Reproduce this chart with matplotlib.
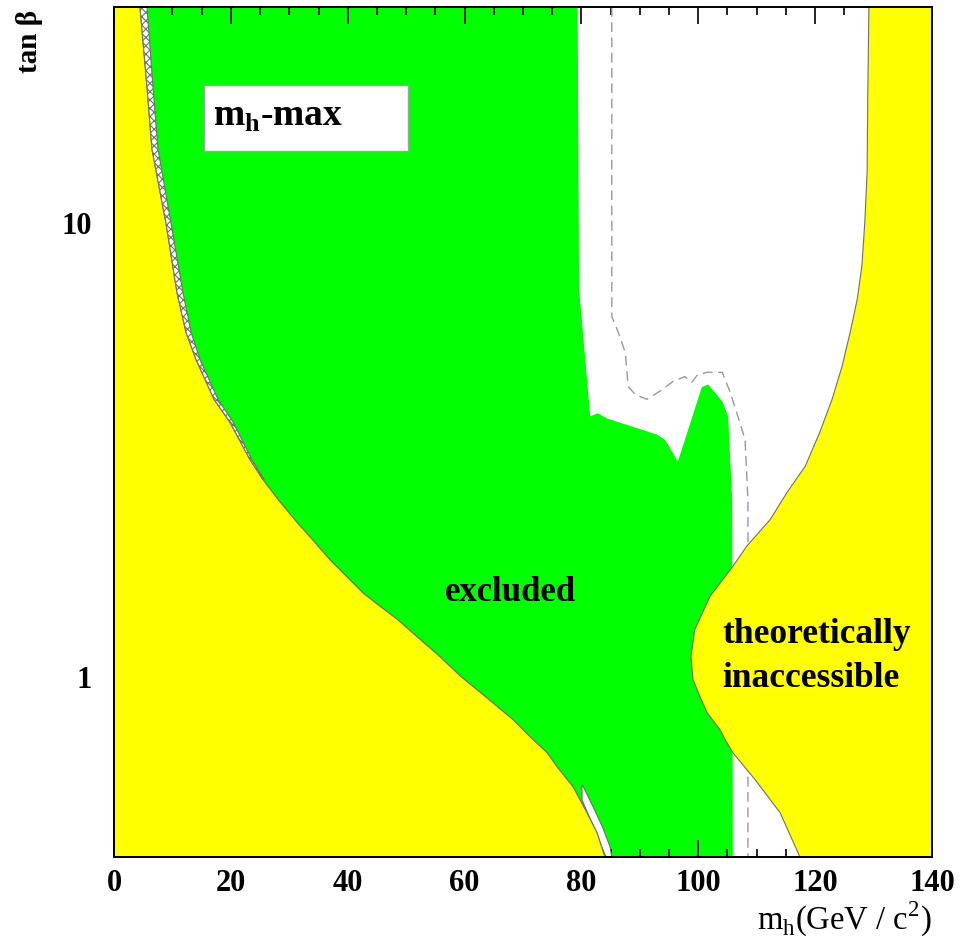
import matplotlib

matplotlib.use("Agg")

import matplotlib.pyplot as plt
import numpy as np
from matplotlib.patches import Rectangle
from matplotlib.ticker import LogLocator, MultipleLocator, NullFormatter

plt.rcParams["font.family"] = ["Liberation Serif", "DejaVu Serif"]
plt.rcParams["mathtext.fontset"] = "custom"
plt.rcParams["mathtext.rm"] = "Liberation Serif"
plt.rcParams["mathtext.bf"] = "Liberation Serif:bold"
plt.rcParams["hatch.linewidth"] = 0.8

YELLOW = "#ffff00"
GREEN = "#00ff00"
EDGE = "#707070"

# theoretically inaccessible region at low m_h (yellow, left)
left_y = [30, 20, 14.57, 10, 7.04, 5.75, 5.01, 4.53, 4.09, 3.64, 3.01, 2.72, 2.46, 2.19, 2.00,
          1.81, 1.66, 1.53, 1.43, 1.34, 1.22, 1.107, 1.0, 0.936, 0.804, 0.737, 0.68, 0.633,
          0.572, 0.501, 0.453, 0.40]
left_x = [4.45, 5.65, 6.50, 8.90, 10.78, 12.32, 14.03, 15.57, 17.11, 19.85, 23.28, 25.50, 28.07,
          31.32, 34.06, 36.97, 39.88, 42.62, 45.52, 48.43, 52.03, 55.79, 59.39, 62.13, 68.29,
          71.20, 74.11, 75.82, 78.56, 80.95, 82.66, 84.03]

# hatched theory band along the left edge
band_y = [30, 20, 14.57, 10, 7.04, 5.75, 5.01, 4.09, 3.64, 3.01, 2.72]
band_left = [4.45, 5.65, 6.50, 8.90, 10.78, 12.32, 14.03, 17.11, 19.85, 23.28, 25.50]
band_right = [5.65, 6.67, 7.53, 9.76, 11.8, 13.2, 14.7, 17.8, 20.4, 23.6, 25.7]

# excluded region (green), right boundary from top to bottom
green_y = [30, 7.16, 3.75, 3.81, 3.71, 3.42, 3.33, 2.98, 4.35, 4.41, 4.05, 3.75, 2.46, 0.40]
green_x = [79.35, 79.6, 81.5, 82.8, 84.4, 92.9, 94.3, 96.5, 100.6, 101.7, 104.1, 105.1, 105.8, 105.9]

# small allowed sliver at the bottom of the excluded region
sliver_x = [80.1, 80.4, 82.0, 83.6, 84.9, 85.2, 84.2, 83.3, 82.1, 80.8, 80.1]
sliver_y = [0.578, 0.569, 0.516, 0.466, 0.421, 0.40, 0.40, 0.426, 0.466, 0.509, 0.535]

# theoretically inaccessible region at high m_h (yellow, right)
right_y = [30, 18.8, 12.96, 10.05, 8.05, 6.79, 5.75, 4.83, 4.09, 3.46, 2.91, 2.55, 2.22, 1.94,
           1.75, 1.503, 1.27, 1.107, 0.985, 0.903, 0.833, 0.764, 0.726, 0.68, 0.593, 0.501, 0.40]
right_x = [129.2, 129.0, 128.9, 128.5, 128.0, 127.2, 126.0, 124.6, 122.9, 120.8, 118.3, 115.2,
           112.3, 108.3, 105.9, 102.0, 99.4, 98.75, 99.1, 100.3, 101.5, 103.7, 104.6, 105.9,
           109.7, 114.0, 117.4]

# expected limit (dashed)
exp_x = [85.2, 85.2, 86.3, 87.5, 88.0, 89.2, 91.2, 93.4, 95.7, 97.7, 98.9, 99.8, 101.5, 104.1,
         105.4, 107.1, 108.0, 108.5, 108.5]
exp_y = [30, 6.23, 5.75, 5.19, 4.37, 4.19, 4.09, 4.26, 4.48, 4.59, 4.46, 4.62, 4.69, 4.69,
         4.26, 3.64, 3.33, 2.46, 0.40]

fig = plt.figure(figsize=(9.67, 9.43), dpi=100)
ax = fig.add_axes([0.1179, 0.0912, 0.8459, 0.9014])
ax.set_yscale("log")
ax.set_xlim(0, 140)
ax.set_ylim(0.4, 30)

ax.fill([0] + green_x + [0], [30] + green_y + [0.4], color=GREEN, lw=0, zorder=1)
ax.plot(exp_x, exp_y, color="#999999", lw=1.0, dashes=(7, 4), zorder=2)
ax.fill(sliver_x, sliver_y, facecolor="white", edgecolor=EDGE, lw=0.8, zorder=3)
ax.fill_betweenx(left_y, 0, left_x, facecolor=YELLOW, edgecolor="none", zorder=4)
ax.plot(left_x, left_y, color=EDGE, lw=0.9, zorder=5)
ax.fill_betweenx(band_y, band_left, band_right, facecolor="white", edgecolor=EDGE,
                 hatch="xxxx", lw=0.8, zorder=5)
ax.fill_betweenx(right_y, right_x, 140, facecolor=YELLOW, edgecolor="none", zorder=4)
ax.plot(right_x, right_y, color=EDGE, lw=0.8, zorder=5)

ax.add_patch(Rectangle((0.110, 0.831), 0.249, 0.077, transform=ax.transAxes,
                       facecolor="white", edgecolor="#a0a0a0", lw=1.0, zorder=6))
ax.text(16.9, 16.4, r"m$_\mathbf{h}$-max", fontsize=27, fontweight="bold", zorder=7)
ax.text(67.8, 1.465, "excluded", fontsize=25, fontweight="bold", ha="center", zorder=7)
ax.text(104.1, 1.189, "theoretically", fontsize=25.5, fontweight="bold", zorder=7)
ax.text(104.1, 0.95, "inaccessible", fontsize=25.5, fontweight="bold", zorder=7)

ax.xaxis.set_major_locator(MultipleLocator(20))
ax.xaxis.set_minor_locator(MultipleLocator(5))
ax.set_yticks([1, 10])
ax.set_yticklabels(["1", "10"])
ax.yaxis.set_minor_locator(LogLocator(base=10, subs=np.arange(2, 10)))
ax.yaxis.set_minor_formatter(NullFormatter())

ax.tick_params(which="both", direction="in", top=True, right=True, width=1.2, colors="black")
ax.tick_params(which="major", length=12)
ax.tick_params(which="minor", length=6)
ax.tick_params(axis="x", which="major", pad=9)
ax.tick_params(axis="y", which="major", pad=16)
for lab in ax.get_xticklabels() + ax.get_yticklabels():
    lab.set_fontsize(22)
    lab.set_fontweight("bold")

for sp in ax.spines.values():
    sp.set_linewidth(1.4)
    sp.set_zorder(10)

ax.text(-0.103, 0.996, "tan β", transform=ax.transAxes, rotation=90,
        fontsize=21, fontweight="bold", ha="center", va="top")
ax.text(1.0, -0.086, r"m$_\mathrm{h}$(GeV / c$^\mathrm{2}$)", transform=ax.transAxes,
        fontsize=23.5, ha="right", va="baseline")

fig.savefig("out.png", dpi=100)
